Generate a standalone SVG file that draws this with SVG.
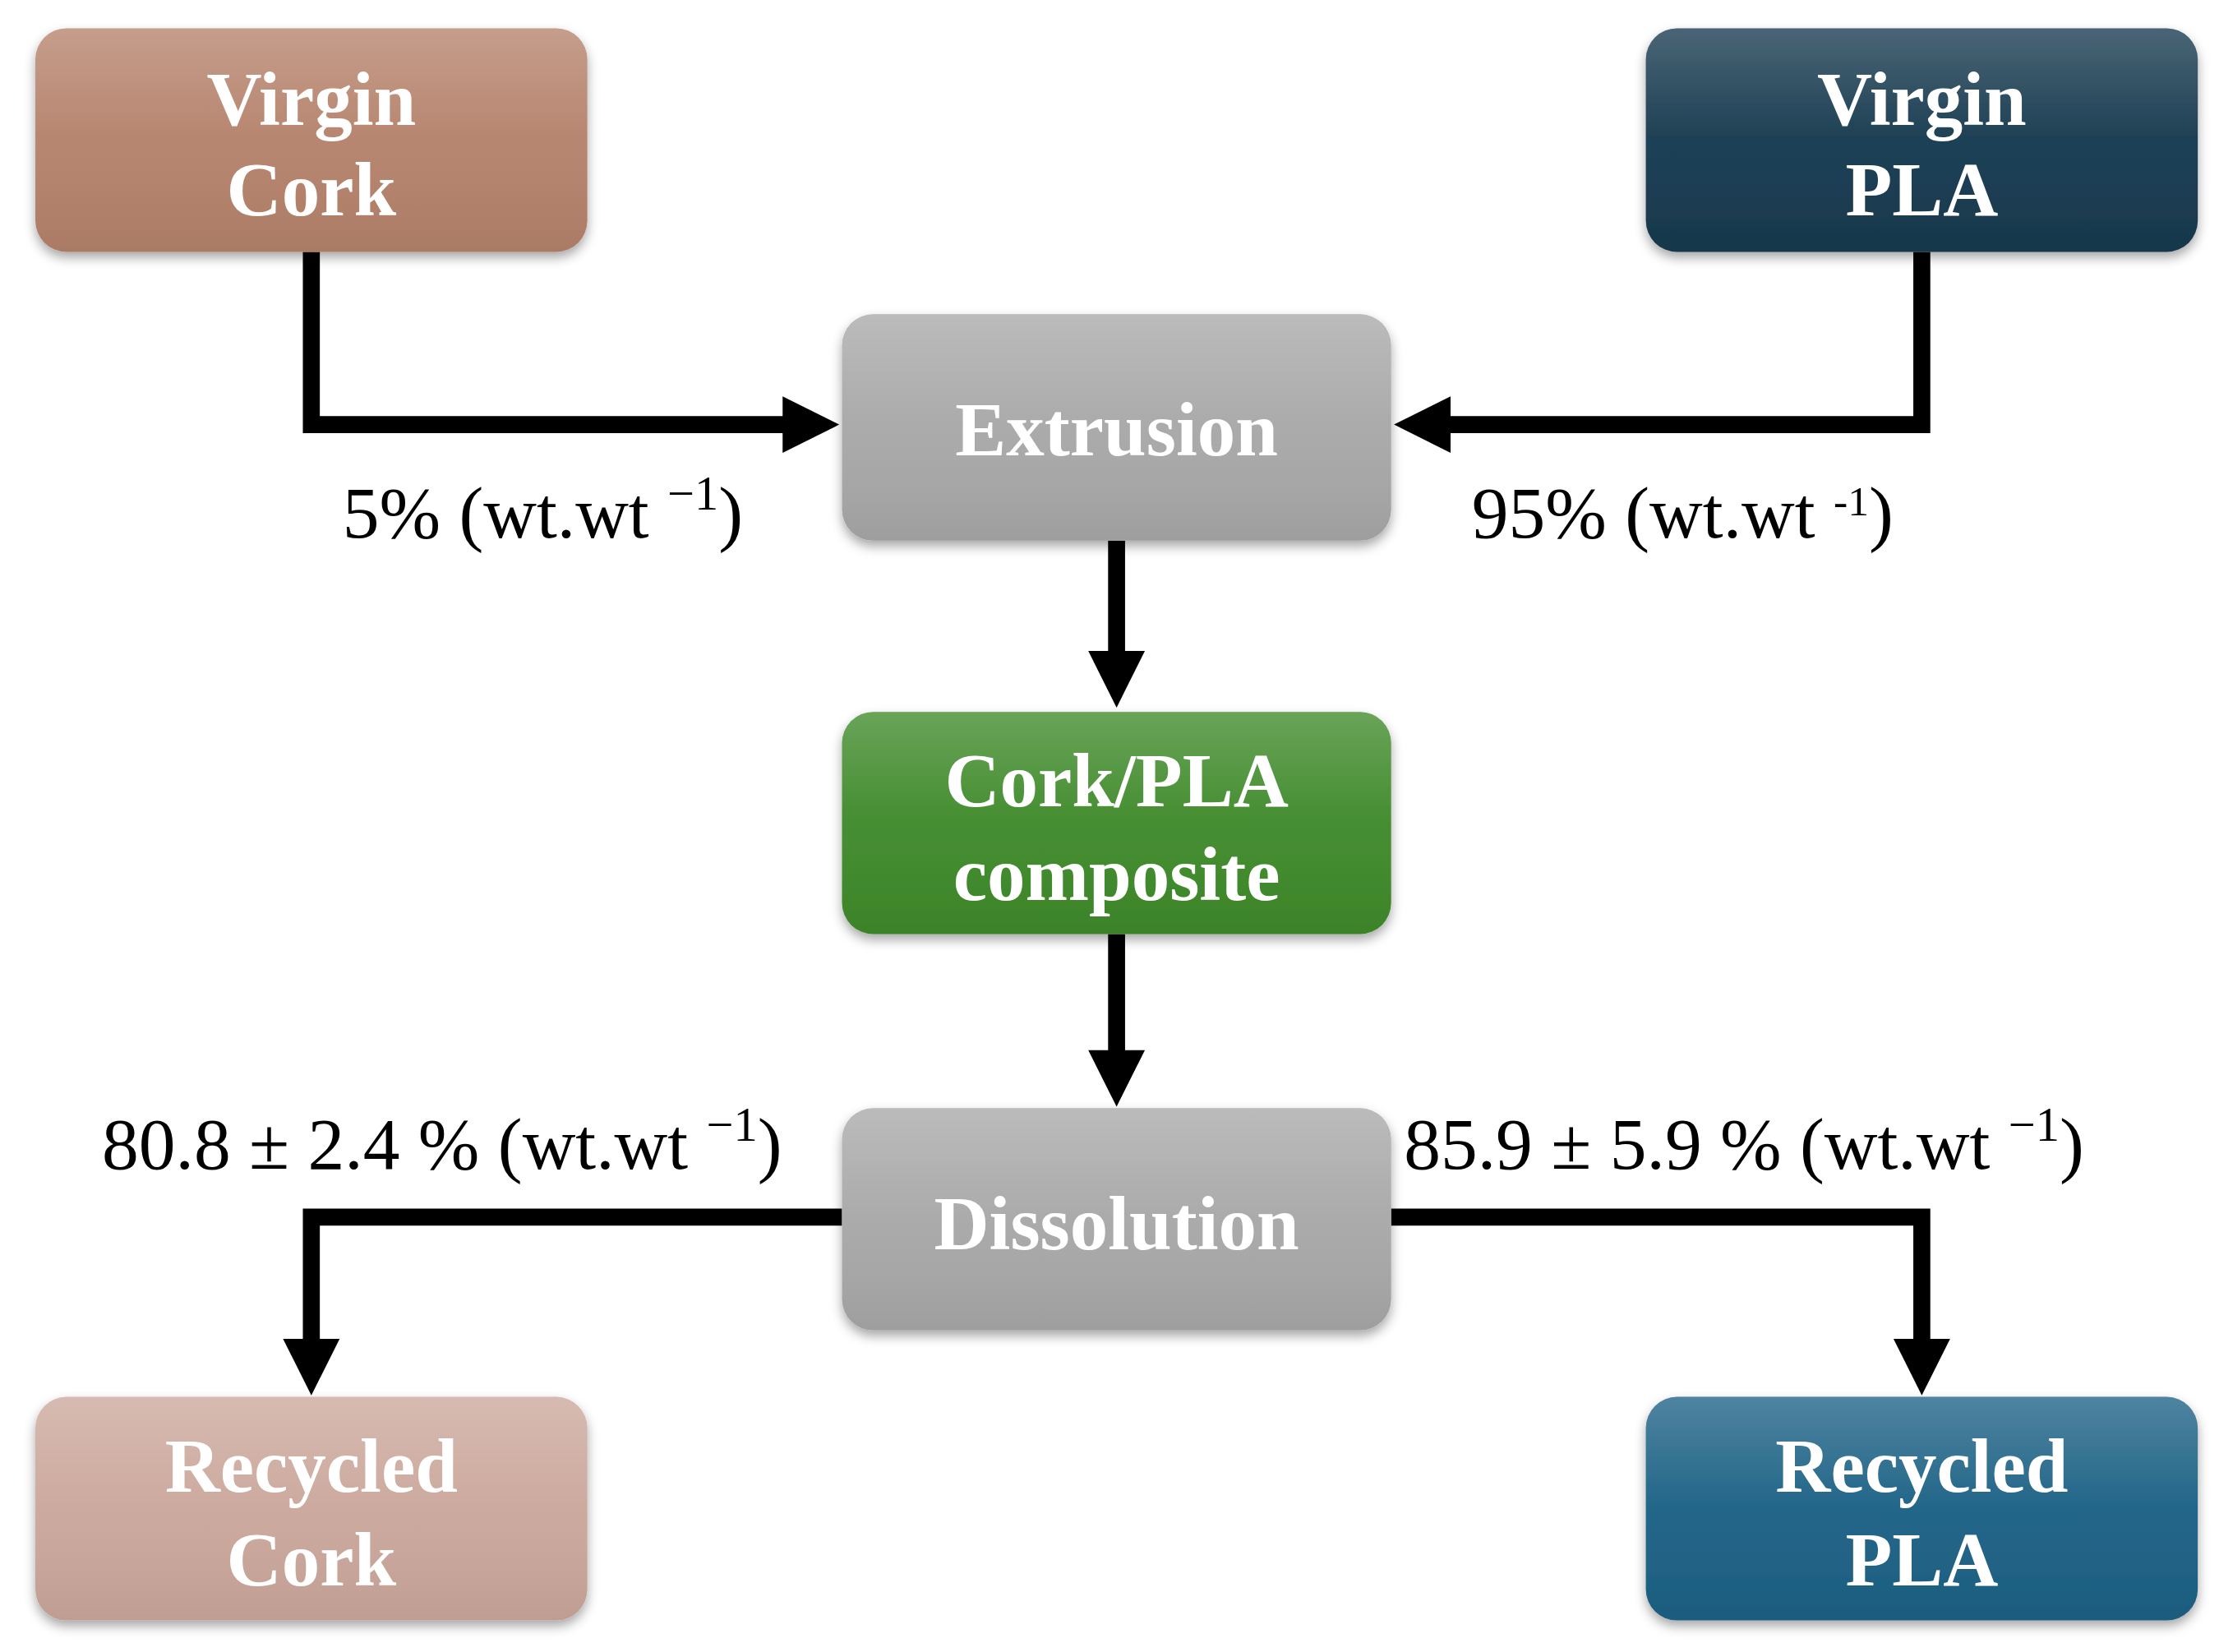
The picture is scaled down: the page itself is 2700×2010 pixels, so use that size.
<svg xmlns="http://www.w3.org/2000/svg" width="2700" height="2010" viewBox="0 0 2700 2010">
<style>
.t{font-family:"Liberation Serif","Times New Roman",serif;font-weight:bold;font-size:54px;fill:#fff;text-anchor:middle}
.l{font-family:"Liberation Serif","Times New Roman",serif;font-size:52px;fill:#000}
.c{fill:none;stroke:#000;stroke-width:12}
.h{fill:#000}
.gl{fill:url(#gloss)}
</style>
<defs>
<linearGradient id="gloss" x1="0" y1="0" x2="0" y2="1">
<stop offset="0" stop-color="#fff" stop-opacity="0.22"/>
<stop offset="0.5" stop-color="#fff" stop-opacity="0.03"/>
<stop offset="1" stop-color="#000" stop-opacity="0.06"/>
</linearGradient>
<filter id="sh" x="-10%" y="-10%" width="120%" height="130%">
<feDropShadow dx="0" dy="4" stdDeviation="4" flood-color="#000" flood-opacity="0.35"/>
</filter>
</defs>
<rect width="2700" height="2010" fill="#fff"/>
<g transform="scale(1.72194)">
<g id="connectors">
<path class="c" d="M220,178 V300 H556"/>
<polygon class="h" points="553,280 593,300 553,320"/>
<path class="c" d="M1358,178 V300 H1022"/>
<polygon class="h" points="1025,280 985,300 1025,320"/>
<path class="c" d="M789,382 V462"/>
<polygon class="h" points="769,460 789,500 809,460"/>
<path class="c" d="M789,660 V744"/>
<polygon class="h" points="769,742 789,782 809,742"/>
<path class="c" d="M595,860 H220 V950"/>
<polygon class="h" points="200,946 220,986 240,946"/>
<path class="c" d="M983,860 H1358 V950"/>
<polygon class="h" points="1338,946 1358,986 1378,946"/>
</g>
<g id="labels">
<text class="l" x="242" y="380">5% (wt.wt <tspan font-size="34" dy="-20">−1</tspan><tspan dy="20">)</tspan></text>
<text class="l" x="1040" y="380">95% (wt.wt <tspan font-size="30" dy="-16">-1</tspan><tspan dy="16">)</tspan></text>
<text class="l" x="72" y="826">80.8 ± 2.4 % (wt.wt <tspan font-size="34" dy="-20">−1</tspan><tspan dy="20">)</tspan></text>
<text class="l" x="992" y="826">85.9 ± 5.9 % (wt.wt <tspan font-size="34" dy="-20">−1</tspan><tspan dy="20">)</tspan></text>
</g>
<g id="virgin-cork" filter="url(#sh)">
<rect x="25" y="20" width="390" height="158" rx="22" fill="#b5826b"/>
<rect x="25" y="20" width="390" height="158" rx="22" class="gl"/>
<text class="t" x="220" y="88">Virgin</text><text class="t" x="220" y="152">Cork</text>
</g>
<g id="virgin-pla" filter="url(#sh)">
<rect x="1163" y="20" width="390" height="158" rx="22" fill="#173a4f"/>
<rect x="1163" y="20" width="390" height="158" rx="22" class="gl"/>
<text class="t" x="1358" y="88">Virgin</text><text class="t" x="1358" y="152">PLA</text>
</g>
<g id="extrusion" filter="url(#sh)">
<rect x="595" y="222" width="388" height="160" rx="22" fill="#a8a8a8"/>
<rect x="595" y="222" width="388" height="160" rx="22" class="gl"/>
<text class="t" x="789" y="322">Extrusion</text>
</g>
<g id="composite" filter="url(#sh)">
<rect x="595" y="503" width="388" height="157" rx="22" fill="#3f8a2a"/>
<rect x="595" y="503" width="388" height="157" rx="22" class="gl"/>
<text class="t" x="789" y="570">Cork/PLA</text><text class="t" x="789" y="636">composite</text>
</g>
<g id="dissolution" filter="url(#sh)">
<rect x="595" y="783" width="388" height="157" rx="22" fill="#a8a8a8"/>
<rect x="595" y="783" width="388" height="157" rx="22" class="gl"/>
<text class="t" x="789" y="883">Dissolution</text>
</g>
<g id="recycled-cork" filter="url(#sh)">
<rect x="25" y="987" width="390" height="158" rx="22" fill="#cba79b"/>
<rect x="25" y="987" width="390" height="158" rx="22" class="gl"/>
<text class="t" x="220" y="1054">Recycled</text><text class="t" x="220" y="1120">Cork</text>
</g>
<g id="recycled-pla" filter="url(#sh)">
<rect x="1163" y="987" width="390" height="158" rx="22" fill="#1c6185"/>
<rect x="1163" y="987" width="390" height="158" rx="22" class="gl"/>
<text class="t" x="1358" y="1054">Recycled</text><text class="t" x="1358" y="1120">PLA</text>
</g>
</g>
</svg>
